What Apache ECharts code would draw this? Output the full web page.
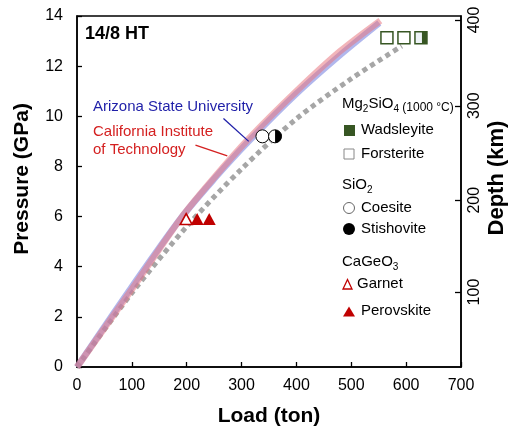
<!DOCTYPE html>
<html>
<head>
<meta charset="utf-8">
<script src="https://cdn.jsdelivr.net/npm/echarts@6/dist/echarts.min.js"></script>
<style>
html,body{margin:0;padding:0;background:#fff}
#chart{width:510px;height:432px}
</style>
</head>
<body>
<div id="chart"></div>
<script>
// calibration curves (load in ton, pressure in GPa)
var asuLoad  = [0, 100, 190, 250, 313, 400, 480, 551];
var asuPres  = [0, 3.2, 5.95, 7.5, 9.0, 10.9, 12.45, 13.72];
var calLoad  = [0, 100, 190, 250, 313, 400, 480, 553];
var calPres  = [0, 3.1, 5.95, 7.55, 9.1, 11.0, 12.6, 13.82];
var dotLoad  = [0, 100, 200, 300, 400, 500, 592];
var dotPres  = [0, 2.95, 5.6, 7.9, 9.9, 11.5, 12.8];

// fixed points
var forsteriteLoad = [565, 596];
var mixedMgLoad = [627];
var mgPres = 13.13;
var coesiteLoad = [338];
var mixedSiLoad = [361];
var siPres = 9.2;
var garnetLoad = [199];
var perovskiteLoad = [219, 241];
var caPres = 5.9;

// right axis: depth ticks and the pressure they sit at
var depthKm = [100, 200, 300, 400];
var depthAtPres = [2.99, 6.65, 10.42, 13.84];

// leader lines for the labels
var asuLeader = [[267, 9.91], [313, 9.0]];
var calLeader = [[216, 8.85], [274, 8.42]];

var FONT = 'Liberation Sans, Arial, sans-serif';
var GREEN = '#375623';
var RED = '#c00000';

function pairs(xs, ys){
	var out = [];
	for (var i = 0; i < xs.length; i++) out.push([xs[i], ys[i]]);
	return out;
}
function atP(xs, p){
	return xs.map(function(x){ return [x, p]; });
}

var chart = echarts.init(document.getElementById('chart'));

// text whose left edge is at x and whose middle is at y
var txt = function(x, y, text, size, color, weight){
	return {
		type: 'text', x: x, y: y, z: 100,
		style: {text: text, fill: color || '#000', fontSize: size,
			fontFamily: FONT, fontWeight: weight || 'normal', verticalAlign: 'middle'}
	};
};
var subRich = {
	n: {fontSize: 15, fontFamily: FONT, color: '#000', lineHeight: 20},
	s: {fontSize: 10, fontFamily: FONT, color: '#000', lineHeight: 10, verticalAlign: 'bottom'},
	m: {fontSize: 12, fontFamily: FONT, color: '#000', lineHeight: 18, verticalAlign: 'bottom'}
};
var richTxt = function(x, y, text){
	return {type: 'text', x: x, y: y, z: 100, style: {text: text, rich: subRich, verticalAlign: 'middle'}};
};

var option = {
	animation: false,
	grid: {left: 77, right: 49, top: 16, bottom: 60, show: true, borderColor: '#000', borderWidth: 1.5},
	xAxis: {
		type: 'value', min: 0, max: 700, interval: 100,
		axisLine: {show: true, onZero: false, lineStyle: {color: '#000', width: 1.5}},
		axisTick: {show: true, inside: true, length: 5, lineStyle: {color: '#000', width: 1.3}},
		axisLabel: {color: '#000', fontSize: 16, fontFamily: FONT, margin: 11},
		splitLine: {show: false},
		name: 'Load (ton)', nameLocation: 'middle', nameGap: 39,
		nameTextStyle: {color: '#000', fontSize: 21, fontWeight: 'bold', fontFamily: FONT}
	},
	yAxis: [{
		type: 'value', min: 0, max: 14, interval: 2,
		axisLine: {show: true, onZero: false, lineStyle: {color: '#000', width: 1.5}},
		axisTick: {show: true, inside: true, length: 5, lineStyle: {color: '#000', width: 1.3}},
		axisLabel: {color: '#000', fontSize: 16, fontFamily: FONT, margin: 14},
		splitLine: {show: false}
	}, {
		type: 'value', min: 0, max: 14, position: 'right',
		axisLine: {show: true, onZero: false, lineStyle: {color: '#000', width: 1.5}},
		axisTick: {show: true, inside: true, length: 6, customValues: depthAtPres, lineStyle: {color: '#000', width: 1.3}},
		axisLabel: {
			color: '#000', fontSize: 16, fontFamily: FONT, margin: 6, rotate: 90,
			customValues: depthAtPres,
			formatter: function(v){
				for (var i = 0; i < depthAtPres.length; i++) {
					if (Math.abs(depthAtPres[i] - v) < 1e-6) return String(depthKm[i]);
				}
				return '';
			}
		},
		splitLine: {show: false}
	}],
	series: [{
		type: 'line', smooth: 0.3, symbol: 'none', data: pairs(dotLoad, dotPres),
		lineStyle: {color: '#a6a6a6', width: 5, type: [5, 4], cap: 'butt'}, z: 2
	}, {
		type: 'line', smooth: 0.3, symbol: 'none', data: pairs(asuLoad, asuPres),
		lineStyle: {color: 'rgba(125,135,225,0.6)', width: 6.5}, z: 3
	}, {
		type: 'line', smooth: 0.3, symbol: 'none', data: pairs(calLoad, calPres),
		lineStyle: {color: 'rgba(232,120,130,0.55)', width: 6.5}, z: 4
	}, {
		type: 'line', symbol: 'none', data: asuLeader,
		lineStyle: {color: '#1f1fa8', width: 1.3}, z: 5
	}, {
		type: 'line', symbol: 'none', data: calLeader,
		lineStyle: {color: '#d42020', width: 1.3}, z: 5
	}, {
		type: 'scatter', data: atP(forsteriteLoad, mgPres), symbol: 'rect', symbolSize: 12,
		itemStyle: {color: '#fff', borderColor: GREEN, borderWidth: 1.5, opacity: 1}, z: 6
	}, {
		type: 'scatter', data: atP(mixedMgLoad, mgPres), symbol: 'rect', symbolSize: 12,
		itemStyle: {color: '#eef3f7', borderColor: GREEN, borderWidth: 1.5, opacity: 1}, z: 6
	}, {
		type: 'scatter', data: atP(mixedMgLoad, mgPres), symbol: 'rect', symbolSize: [5, 12], symbolOffset: [3.5, 0],
		itemStyle: {color: GREEN, opacity: 1}, z: 7
	}, {
		type: 'scatter', data: atP(coesiteLoad, siPres), symbol: 'circle', symbolSize: 13,
		itemStyle: {color: '#fff', borderColor: '#000', borderWidth: 1, opacity: 1}, z: 6
	}, {
		type: 'scatter', data: atP(mixedSiLoad, siPres), symbol: 'circle', symbolSize: 13,
		itemStyle: {color: '#fff', borderColor: '#000', borderWidth: 1, opacity: 1}, z: 6
	}, {
		type: 'scatter', data: atP(mixedSiLoad, siPres), symbol: 'path://M0,0 A10,10 0 0 1 0,20 Z',
		symbolKeepAspect: false, symbolSize: [6.5, 13], symbolOffset: [3.25, 0],
		itemStyle: {color: '#000', opacity: 1}, z: 7
	}, {
		type: 'scatter', data: atP(garnetLoad, caPres), symbol: 'triangle', symbolSize: [12, 11],
		itemStyle: {color: '#fff', borderColor: RED, borderWidth: 1.5, opacity: 1}, z: 6
	}, {
		type: 'scatter', data: atP(perovskiteLoad, caPres), symbol: 'triangle', symbolSize: [13, 12],
		itemStyle: {color: RED, opacity: 1}, z: 7
	}],
	graphic: [
		{type: 'text', x: 22, y: 179, rotation: Math.PI / 2, z: 100,
			style: {text: 'Pressure (GPa)', fill: '#000', fontSize: 21, fontWeight: 'bold', fontFamily: FONT,
				align: 'center', verticalAlign: 'middle'}},
		{type: 'text', x: 497, y: 178, rotation: Math.PI / 2, z: 100,
			style: {text: 'Depth (km)', fill: '#000', fontSize: 22, fontWeight: 'bold', fontFamily: FONT,
				align: 'center', verticalAlign: 'middle'}},
		txt(85, 34, '14/8 HT', 18, '#000', 'bold'),
		txt(93, 107, 'Arizona State University', 15, '#1f1fa8'),
		txt(93, 132, 'California Institute', 15, '#d42020'),
		txt(93, 150, 'of Technology', 15, '#d42020'),
		richTxt(342, 104, '{n|Mg}{s|2}{n|SiO}{s|4}{m| (1000 °C)}'),
		txt(361, 130, 'Wadsleyite', 15),
		txt(361, 154, 'Forsterite', 15),
		richTxt(342, 185, '{n|SiO}{s|2}'),
		txt(361, 208, 'Coesite', 15),
		txt(361, 229, 'Stishovite', 15),
		richTxt(342, 262, '{n|CaGeO}{s|3}'),
		txt(357, 284, 'Garnet', 15),
		txt(361, 311, 'Perovskite', 15),
		{type: 'rect', shape: {x: 344, y: 125, width: 11, height: 11}, style: {fill: GREEN}, z: 100},
		{type: 'rect', shape: {x: 344, y: 149, width: 10, height: 10}, style: {fill: '#fff', stroke: '#888', lineWidth: 1}, z: 100},
		{type: 'circle', shape: {cx: 349, cy: 208, r: 5.5}, style: {fill: '#fff', stroke: '#666', lineWidth: 1}, z: 100},
		{type: 'circle', shape: {cx: 349, cy: 229, r: 6}, style: {fill: '#000'}, z: 100},
		{type: 'polygon', shape: {points: [[347.5, 279.5], [343, 289], [352, 289]]}, style: {fill: '#fff', stroke: RED, lineWidth: 1.3}, z: 100},
		{type: 'polygon', shape: {points: [[349, 306.5], [343, 316.5], [355, 316.5]]}, style: {fill: RED}, z: 100}
	]
};
chart.setOption(option);
</script>
</body>
</html>
